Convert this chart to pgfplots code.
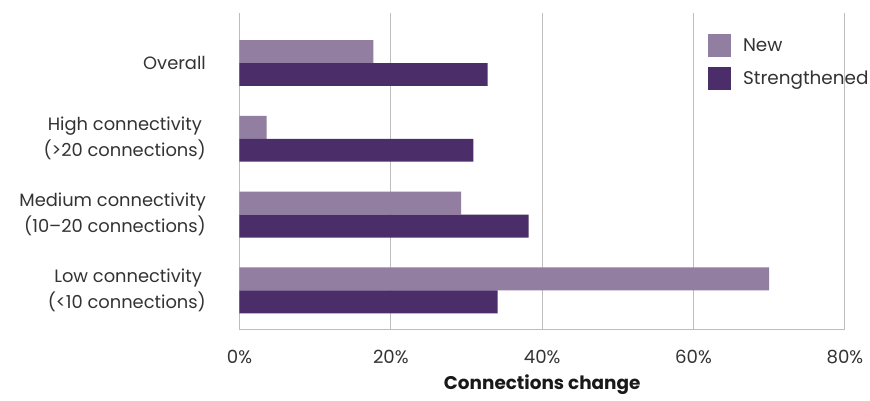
\documentclass[border=0pt]{standalone}
\usepackage{pgfplots}
\pgfplotsset{compat=1.18}
\usepackage{fontspec}
\setmainfont{Poppins}
\definecolor{newc}{HTML}{917EA0}
\definecolor{strc}{HTML}{4B2E69}
\definecolor{gridc}{HTML}{BDBDBD}
\begin{document}
\begin{tikzpicture}
\path[use as bounding box] (-179.6pt,-53.25pt) rectangle (472.9pt,246.75pt);
\begin{axis}[
  at={(0pt,0pt)}, anchor=south west,
  scale only axis, width=454.1pt, height=237pt,
  xbar, bar width=0.3026,
  xmin=0, xmax=80, ymin=-0.66, ymax=3.51, y dir=reverse,
  ytick={0,1,2,3},
  yticklabels={Overall,{High connectivity\kern3pt\\(>20 connections)},{Medium connectivity\\(10--20 connections)},{Low connectivity\kern3pt\\(<10 connections)}},
  yticklabel style={align=right, inner sep=0pt, xshift=-25pt, font=\fontsize{13.4}{19.5}\selectfont, text=black!80},
  xtick={0,20,40,60,80},
  xticklabel={\pgfmathprintnumber{\tick}\%},
  xticklabel style={inner sep=0pt, yshift=-16pt, font=\fontsize{13.6}{15}\selectfont, text=black!80},
  /pgf/number format/assume math mode=true,
  xmajorgrids, grid style={gridc, line width=0.75pt},
  axis x line*=bottom, axis y line*=left,
  axis line style={gridc, line width=0.75pt, -},
  major tick length=0pt,
  xlabel={\bfseries Connections change},
  xlabel style={at={(axis description cs:0.5,0)}, anchor=center, yshift=-42pt, font=\fontsize{13.8}{16}\selectfont, text=black!90},
  legend style={at={(axis description cs:0.774,0.934)}, anchor=north west, draw=none, fill=none, inner sep=0pt, row sep=7.5pt, nodes={inner sep=0pt, anchor=west}, font=\fontsize{13.8}{15}\selectfont, text=black!80},
  legend cell align=left,
]
\addplot[fill=newc, draw=none, bar shift=-0.1513,
  legend image code/.code={\fill[newc] (0pt,-8.6pt) rectangle (17.25pt,8.6pt); \path (26pt,0pt);}]
  coordinates {(17.7,0) (3.6,1) (29.3,2) (70.0,3)};
\addlegendentry{New}
\addplot[fill=strc, draw=none, bar shift=0.1513,
  legend image code/.code={\fill[strc] (0pt,-8.6pt) rectangle (17.25pt,8.6pt); \path (26pt,0pt);}]
  coordinates {(32.8,0) (30.9,1) (38.2,2) (34.1,3)};
\addlegendentry{Strengthened}
\end{axis}
\end{tikzpicture}
\end{document}
